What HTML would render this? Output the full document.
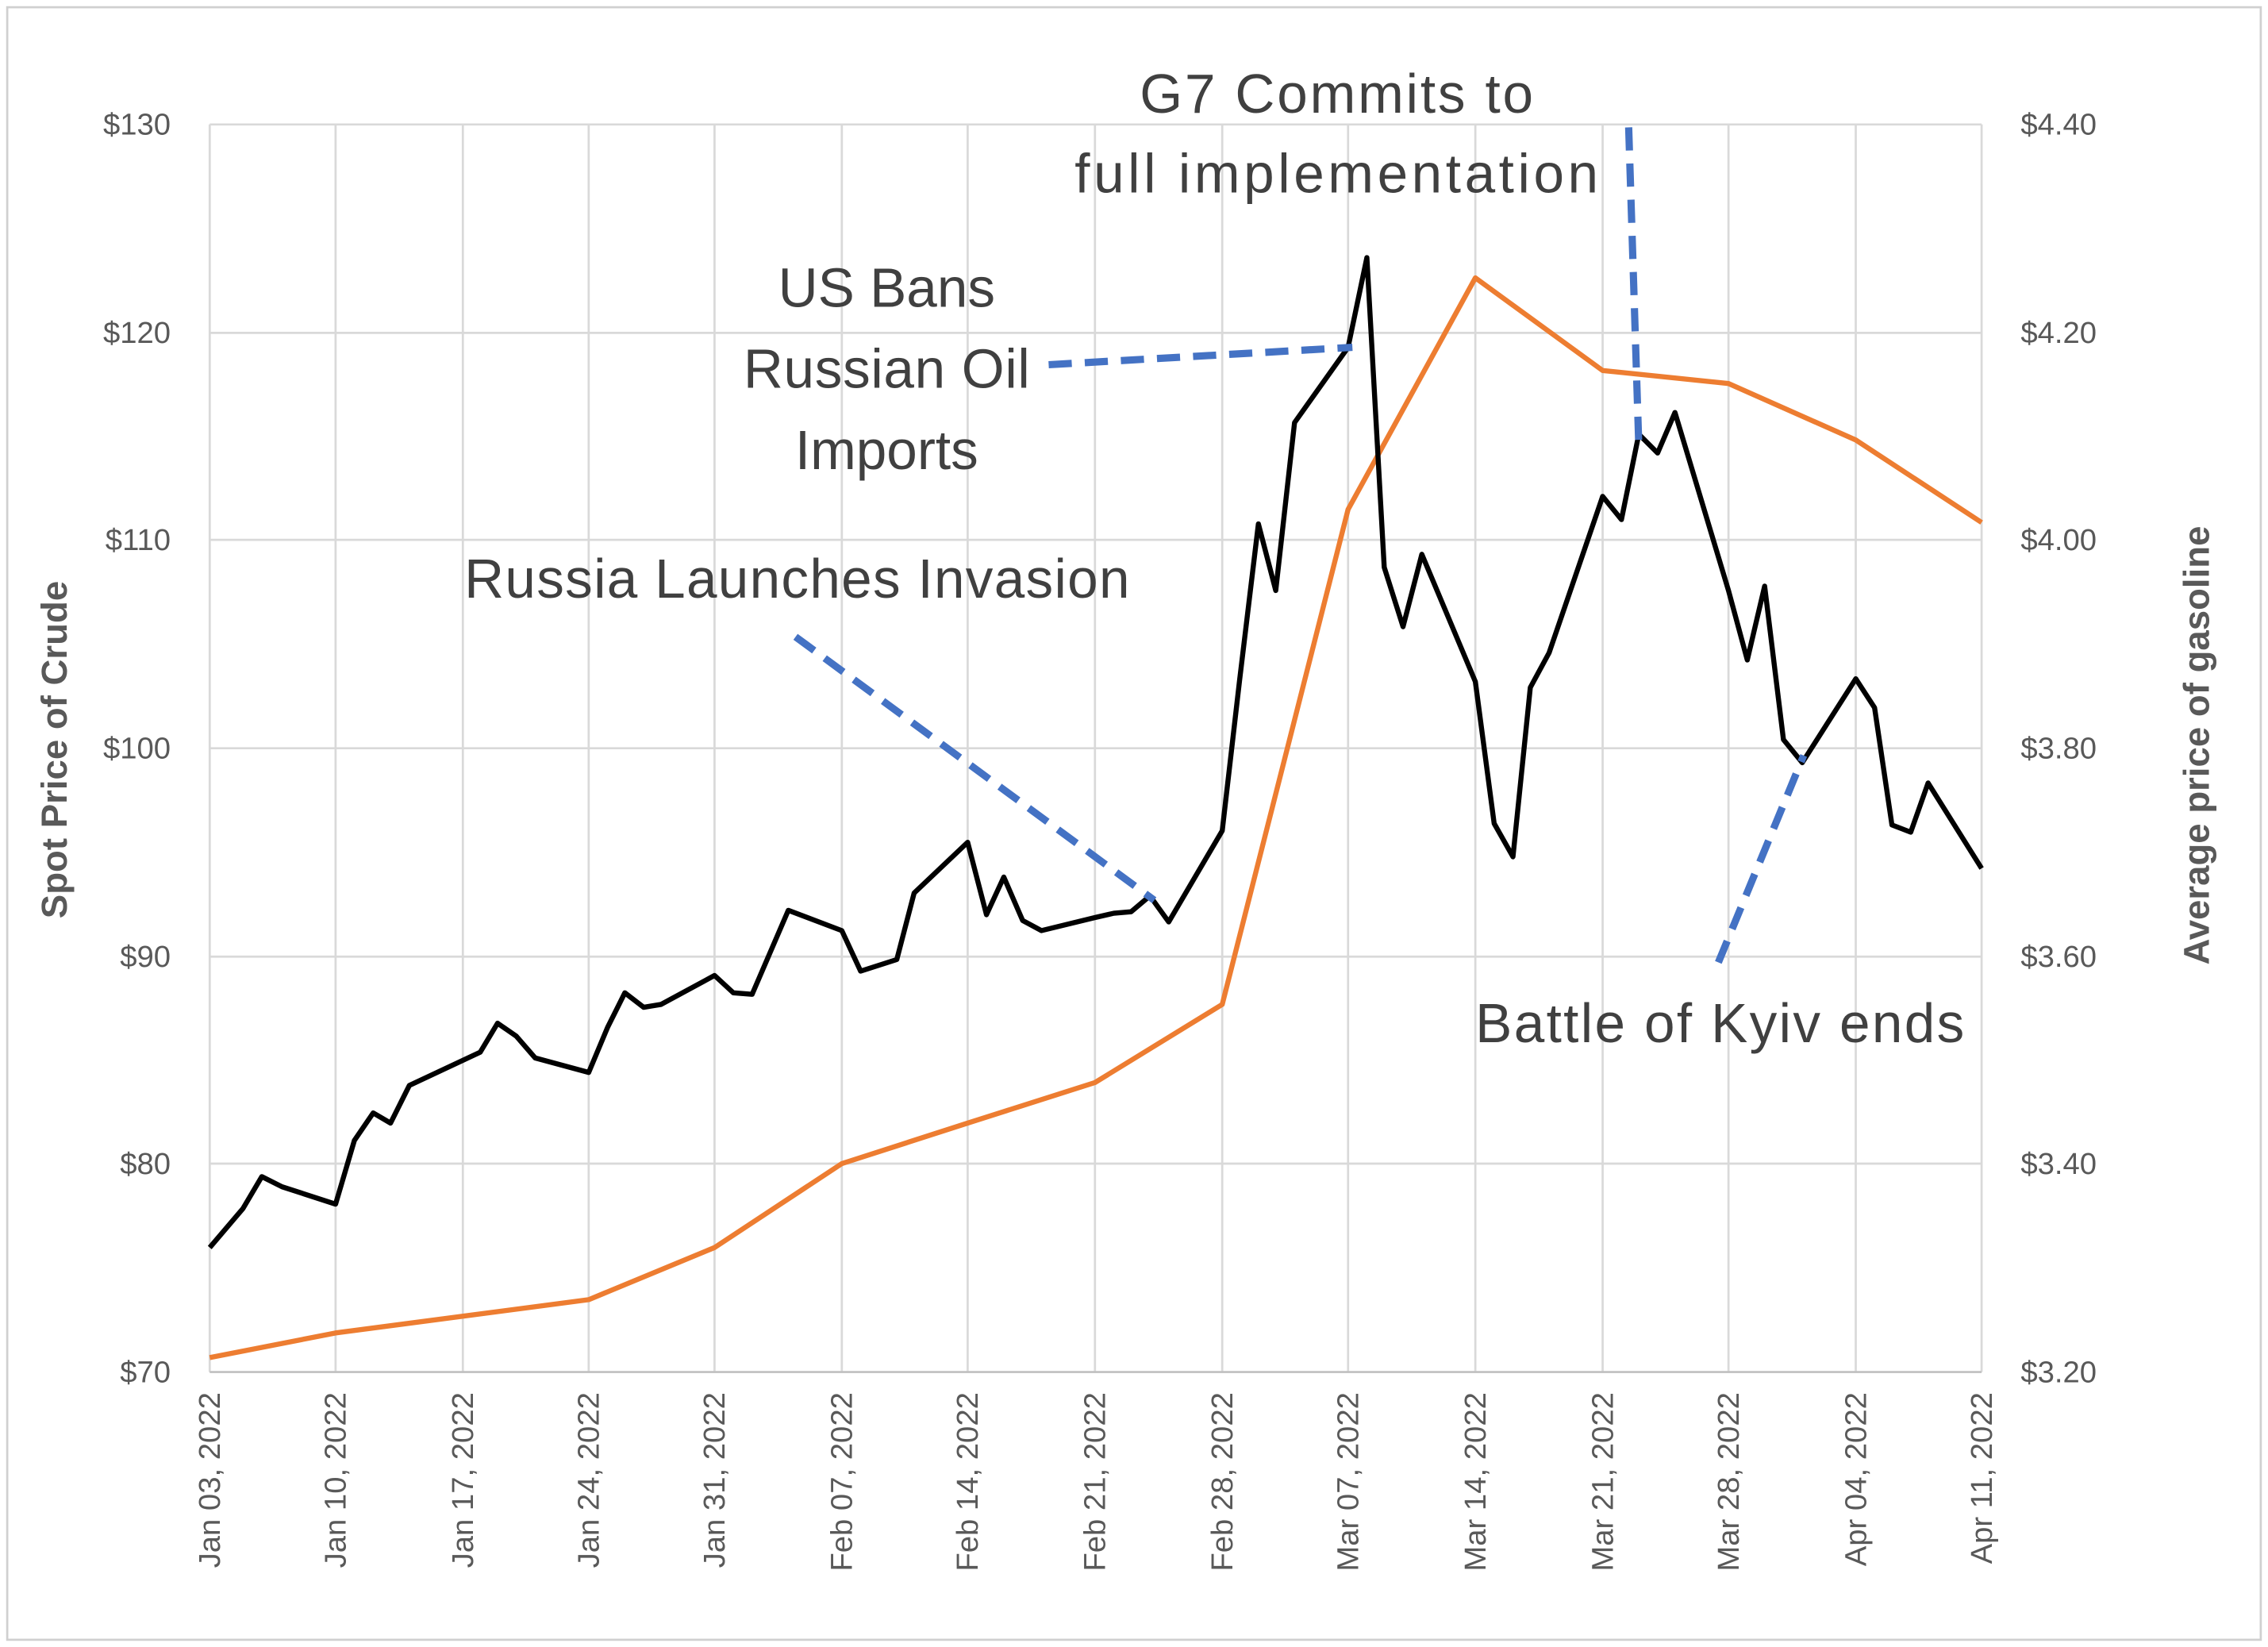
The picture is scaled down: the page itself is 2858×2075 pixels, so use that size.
<!DOCTYPE html>
<html><head><meta charset="utf-8"><style>html,body{margin:0;padding:0;background:#fff}svg{display:block}</style></head>
<body>
<svg width="2858" height="2075" viewBox="0 0 1568 1138" preserveAspectRatio="none" xmlns="http://www.w3.org/2000/svg" font-family="Liberation Sans, sans-serif">
<rect x="0" y="0" width="1568" height="1138" fill="#fff"/>
<rect x="5" y="5" width="1558" height="1128" fill="none" stroke="#d0d0d0" stroke-width="1.5"/>
<g stroke="#d9d9d9" stroke-width="1.5">
<line x1="145" y1="86" x2="1370" y2="86"/><line x1="145" y1="230" x2="1370" y2="230"/><line x1="145" y1="373" x2="1370" y2="373"/><line x1="145" y1="517" x2="1370" y2="517"/><line x1="145" y1="661" x2="1370" y2="661"/><line x1="145" y1="804" x2="1370" y2="804"/>
<line x1="145" y1="86" x2="145" y2="948"/><line x1="232" y1="86" x2="232" y2="948"/><line x1="320" y1="86" x2="320" y2="948"/><line x1="407" y1="86" x2="407" y2="948"/><line x1="494" y1="86" x2="494" y2="948"/><line x1="582" y1="86" x2="582" y2="948"/><line x1="669" y1="86" x2="669" y2="948"/><line x1="757" y1="86" x2="757" y2="948"/><line x1="845" y1="86" x2="845" y2="948"/><line x1="932" y1="86" x2="932" y2="948"/><line x1="1020" y1="86" x2="1020" y2="948"/><line x1="1108" y1="86" x2="1108" y2="948"/><line x1="1195" y1="86" x2="1195" y2="948"/><line x1="1283" y1="86" x2="1283" y2="948"/><line x1="1370" y1="86" x2="1370" y2="948"/>
</g>
<line x1="145" y1="948" x2="1370" y2="948" stroke="#bfbfbf" stroke-width="1.5"/>
<g fill="#595959" font-size="21">
<g text-anchor="end"><text x="118" y="93">$130</text><text x="118" y="237">$120</text><text x="118" y="380">$110</text><text x="118" y="524">$100</text><text x="118" y="668">$90</text><text x="118" y="811">$80</text><text x="118" y="955">$70</text></g>
<g><text x="1397" y="93">$4.40</text><text x="1397" y="237">$4.20</text><text x="1397" y="380">$4.00</text><text x="1397" y="524">$3.80</text><text x="1397" y="668">$3.60</text><text x="1397" y="811">$3.40</text><text x="1397" y="955">$3.20</text></g>
<g text-anchor="end">
<text transform="translate(152,962) rotate(-90)">Jan 03, 2022</text><text transform="translate(239,962) rotate(-90)">Jan 10, 2022</text><text transform="translate(327,962) rotate(-90)">Jan 17, 2022</text><text transform="translate(414,962) rotate(-90)">Jan 24, 2022</text><text transform="translate(501,962) rotate(-90)">Jan 31, 2022</text><text transform="translate(589,962) rotate(-90)">Feb 07, 2022</text><text transform="translate(676,962) rotate(-90)">Feb 14, 2022</text><text transform="translate(764,962) rotate(-90)">Feb 21, 2022</text><text transform="translate(852,962) rotate(-90)">Feb 28, 2022</text><text transform="translate(939,962) rotate(-90)">Mar 07, 2022</text><text transform="translate(1027,962) rotate(-90)">Mar 14, 2022</text><text transform="translate(1115,962) rotate(-90)">Mar 21, 2022</text><text transform="translate(1202,962) rotate(-90)">Mar 28, 2022</text><text transform="translate(1290,962) rotate(-90)">Apr 04, 2022</text><text transform="translate(1377,962) rotate(-90)">Apr 11, 2022</text>
</g>
</g>
<g fill="#595959" font-size="25" font-weight="bold" text-anchor="middle">
<text transform="translate(46,518) rotate(-90)">Spot Price of Crude</text>
<text transform="translate(1527,515) rotate(-90)">Average price of gasoline</text>
</g>
<polyline fill="none" stroke="#ed7d31" stroke-width="3.5" stroke-linejoin="round" points="145,938 232,921 407,898 494,862 582,804 669,776 757,748 845,694 932,352 1020,192 1108,256 1195,265 1283,304 1370,361"/>
<polyline fill="none" stroke="#000" stroke-width="3.5" stroke-linejoin="round" points="145,862 168,835 181,813 195,820 232,832 245,788 258,769 270,776 283,750 332,727 344,707 357,716 370,731 407,741 420,710 432,686 445,696 457,694 494,674 507,686 520,687 545,629 582,643 595,671 620,663 632,617 669,582 682,632 694,606 707,636 720,643 757,634 770,631 782,630 795,619 808,637 845,574 857,470 870,362 882,408 895,292 932,240 945,178 957,392 970,433 983,383 1020,471 1033,569 1046,592 1058,475 1071,451 1108,343 1121,359 1133,300 1146,313 1158,285 1195,408 1208,456 1220,405 1233,511 1246,527 1283,469 1296,489 1308,570 1321,575 1333,541 1370,600"/>
<g stroke="#4472c4" stroke-width="5" stroke-dasharray="16,9" fill="none">
<line x1="550" y1="440" x2="798" y2="622"/>
<line x1="725" y1="252" x2="935" y2="240"/>
<line x1="1126" y1="88" x2="1133" y2="308"/>
<line x1="1188" y1="665" x2="1247" y2="522"/>
</g>
<g fill="#404040" font-size="38" text-anchor="middle">
<text x="924" y="78" textLength="272">G7 Commits to</text>
<text x="924" y="133" textLength="362">full implementation</text>
<text x="613" y="212">US Bans</text>
<text x="613" y="268" textLength="198">Russian Oil</text>
<text x="613" y="324">Imports</text>
<text x="551" y="413" textLength="460">Russia Launches Invasion</text>
<text x="1189" y="720" textLength="338">Battle of Kyiv ends</text>
</g>
</svg>
</body></html>
